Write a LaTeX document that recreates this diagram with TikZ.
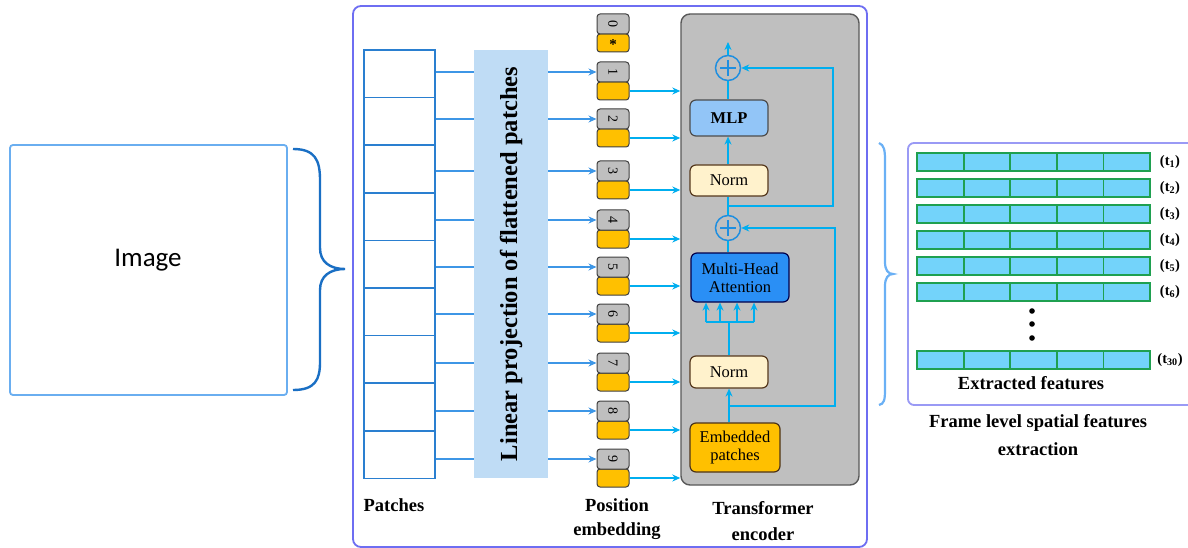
\documentclass[tikz,border=0pt]{standalone}
\usepackage{fontspec}
\setmainfont{Liberation Serif}
\newfontfamily\imgfont{Carlito}
\usetikzlibrary{arrows.meta,calc}
\definecolor{imgblue}{HTML}{6AAEF0}
\definecolor{bracedark}{HTML}{1A6FC4}
\definecolor{framepurple}{HTML}{6E6EF2}
\definecolor{gridblue}{HTML}{2A7FD0}
\definecolor{linkblue}{HTML}{3D96E6}
\definecolor{projfill}{HTML}{BFDCF5}
\definecolor{tokgray}{HTML}{BFBFBF}
\definecolor{orangefill}{HTML}{FFC000}
\definecolor{cyanline}{HTML}{00AEEF}
\definecolor{encfill}{HTML}{BFBFBF}
\definecolor{mlpfill}{HTML}{92C5F7}
\definecolor{normfill}{HTML}{FFF2CC}
\definecolor{mhafill}{HTML}{2A8FF5}
\definecolor{plusblue}{HTML}{1F8FE0}
\definecolor{featfill}{HTML}{73D3FA}
\definecolor{featgreen}{HTML}{1FA050}
\definecolor{rframe}{HTML}{9A9AF5}
\definecolor{rbrace}{HTML}{6AB0F5}
\tikzset{
  boldlbl/.style={font=\fontsize{18.5}{18.5}\selectfont\bfseries, inner sep=0},
  patch/.style={draw=gridblue, line width=1.5pt, minimum width=71, minimum height=47.6, inner sep=0},
  gbox/.style={draw=black!75, fill=tokgray, rounded corners=3pt, line width=1pt, minimum width=32, minimum height=20, inner sep=0},
  obox/.style={draw=black!75, fill=orangefill, rounded corners=3pt, line width=1pt, minimum width=32, minimum height=18, inner sep=0},
  digit/.style={rotate=-90, inner sep=0, font=\fontsize{14}{14}\selectfont},
  link/.style={draw=linkblue, line width=2.4pt},
  cyan/.style={draw=cyanline, line width=2.4pt},
  tip/.style={-{Stealth[length=8pt,width=7pt]}},
  blk/.style={rounded corners=6pt, line width=1.2pt, inner sep=0, align=center, font=\fontsize{16.5}{18}\selectfont},
  plus/.style={circle, draw=plusblue, line width=1.5pt, minimum size=25, inner sep=0,
    path picture={\draw[plusblue, line width=2pt] ($(path picture bounding box.center)+(-8,0)$) -- ($(path picture bounding box.center)+(8,0)$) ($(path picture bounding box.center)+(0,-8)$) -- ($(path picture bounding box.center)+(0,8)$);}},
  feat/.style={draw=featgreen, fill=featfill, line width=1.8pt, minimum width=46.6, minimum height=18, inner sep=0},
  tlbl/.style={font=\fontsize{14.5}{14.5}\selectfont\bfseries, inner sep=0}
}
\begin{document}
\begin{tikzpicture}[x=1pt,y=-1pt]
\useasboundingbox (0,0) rectangle (1188,548);
\clip (0,0) rectangle (1188,548);
\fill[white] (0,0) rectangle (1188,548);
% Image
\node[draw=imgblue, line width=1.8pt, rounded corners=3pt, minimum width=277, minimum height=250, inner sep=0] (img) at (148.5,270) {};
\node[font=\imgfont\fontsize{27}{27}\selectfont, inner sep=0] (imgtxt) at (148,260) {Image};
% left brace
\draw[bracedark, line width=2.4pt] (293,149) .. controls (315,149) and (320,160) .. (320,180) -- (320,248) .. controls (320,262) and (330,269) .. (345,269) .. controls (330,269) and (320,276) .. (320,290) -- (320,362) .. controls (320,380) and (315,390) .. (293,390);
% main frame
\draw[framepurple, line width=1.8pt, rounded corners=8pt] (353,6) rectangle (867,547);
% patches
\foreach \i in {1,...,9} {
  \node[patch] (r\i) at (399.5,{50+47.6*(\i-0.5)}) {};
}
% projection
\node[fill=projfill, minimum width=74, minimum height=428, inner sep=0] (proj) at (511,264) {};
\node[rotate=90, font=\fontsize{24.5}{24.5}\selectfont\bfseries, inner sep=0] (projtxt) at (511,264) {Linear projection of flattened patches};
% tokens
\foreach \i/\t in {0/14,1/62,2/109,3/161,4/210,5/257,6/304,7/353,8/401,9/449} {
  \node[obox] (o\i) at (613,\t+29) {};
  \node[gbox] (g\i) at (613,\t+10) {};
  \node[digit] (d\i) at (g\i) {\i};
}
\node[font=\fontsize{15}{15}\selectfont\bfseries, inner sep=0] (star) at (613,45) {*};
% encoder
\node[draw=black!65, fill=encfill, rounded corners=9pt, line width=1.4pt, minimum width=178, minimum height=471, inner sep=0] (enc) at (770,249.5) {};
% links
\foreach \i in {1,...,9} {
  \draw[link] (r\i.east |- g\i.west) -- (proj.west |- g\i.west);
  \draw[link, tip] (proj.east |- g\i.west) -- (g\i.west);
  \draw[cyan, tip] (o\i.east) -- (enc.west |- o\i.east);
}
% encoder blocks
\node[plus] (p1) at (728,68) {};
\node[blk, draw=black!70, fill=mlpfill, minimum width=78, minimum height=36, font=\fontsize{16.5}{18}\selectfont\bfseries] (mlp) at (729,118) {MLP};
\node[blk, draw=black!55!brown, fill=normfill, minimum width=78, minimum height=31] (normT) at (729,180.5) {Norm};
\node[plus] (p2) at (728,228) {};
\node[blk, draw=black!70!blue, fill=mhafill, minimum width=98, minimum height=49] (mha) at (740,277.5) {Multi-Head\\Attention};
\node[blk, draw=black!55!brown, fill=normfill, minimum width=78, minimum height=32] (normB) at (729,372) {Norm};
\node[blk, draw=black!60!brown, fill=orangefill, minimum width=90, minimum height=49] (emb) at (735,447.5) {Embedded\\patches};
\coordinate (out) at (728,42);
\coordinate (b1) at (728,206);
\coordinate (b2) at (729,406);
\coordinate (hub) at (729,322);
% encoder connectors
\draw[cyan, tip] (p1.north) -- (out);
\draw[cyan] (mlp.north -| p1) -- (p1.south);
\draw[cyan, tip] (normT.north -| p1) -- (mlp.south -| p1);
\draw[cyan] (p2.north) -- (normT.south -| p2);
\draw[cyan, tip] (b1) -- (833,206) |- (p1.east);
\draw[cyan] (mha.north -| p2) -- (p2.south);
\draw[cyan] (normB.north) -- (hub);
\draw[cyan] (706,322) -- (754,322);
\foreach \x in {706,720,737,754} {
  \draw[cyan, tip] (\x,322) -- (\x,0 |- mha.south);
}
\draw[cyan, tip] (emb.north -| normB) -- (normB.south);
\draw[cyan, tip] (b2) -- (835,406) |- (p2.east);
% bottom labels
\node[boldlbl] (lpatch) at (394,505) {Patches};
\node[boldlbl] (lpos1) at (617,505) {Position};
\node[boldlbl] (lpos2) at (617,531) {embedding};
\node[boldlbl] (ltr1) at (763,508) {Transformer};
\node[boldlbl] (ltr2) at (763,534) {encoder};
% right brace
\draw[rbrace, line width=2.2pt] (879,143) .. controls (884,145) and (885,150) .. (885,160) -- (885,262) .. controls (885,270) and (888,274) .. (893,274) .. controls (888,274) and (885,278) .. (885,286) -- (885,390) .. controls (885,400) and (884,404) .. (879,405);
% right frame
\draw[rframe, line width=1.8pt, rounded corners=6pt] (908,143) rectangle (1210,405);
% features
\foreach \r/\y/\s in {1/153/1,2/179/2,3/205/3,4/231/4,5/257/5,6/283/6,7/351/30} {
  \foreach \c in {1,...,5} {
    \node[feat] (f\r c\c) at ({917+46.6*(\c-0.5)},\y+9) {};
  }
  \node[tlbl] (t\r) at (1170,\y+9) {(t\textsubscript{\s})};
}
\foreach \d/\yy in {1/311,2/324,3/338} {
  \fill (1032,\yy) circle (2.8);
}
\node[boldlbl] (lext) at (1031,383) {Extracted features};
\node[boldlbl] (lfr1) at (1038,423) {Frame level spatial features};
\node[boldlbl] (lfr2) at (1038,449) {extraction};
\end{tikzpicture}
\end{document}
